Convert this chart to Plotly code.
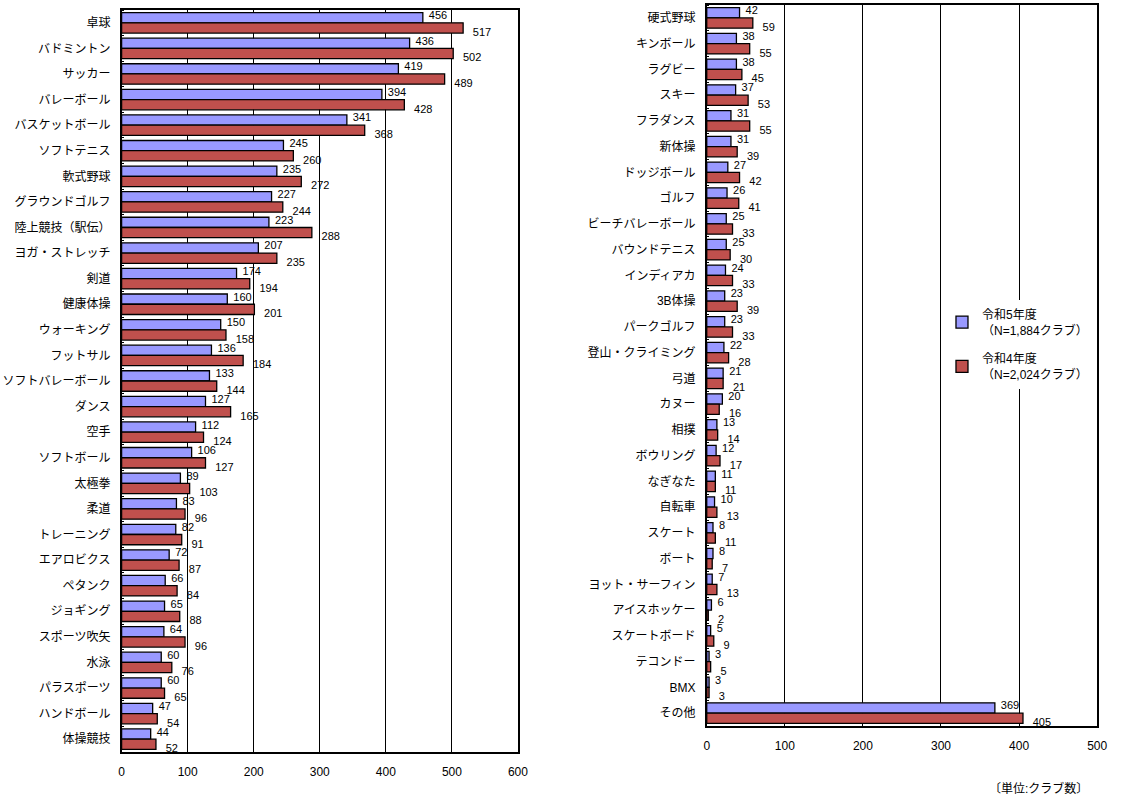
import plotly.graph_objects as go

# Left panel: larger sports
left_sports = ["卓球", "バドミントン", "サッカー", "バレーボール", "バスケットボール",
               "ソフトテニス", "軟式野球", "グラウンドゴルフ", "陸上競技（駅伝）", "ヨガ・ストレッチ",
               "剣道", "健康体操", "ウォーキング", "フットサル", "ソフトバレーボール",
               "ダンス", "空手", "ソフトボール", "太極拳", "柔道",
               "トレーニング", "エアロビクス", "ペタンク", "ジョギング", "スポーツ吹矢",
               "水泳", "パラスポーツ", "ハンドボール", "体操競技"]
left_r5 = [456, 436, 419, 394, 341, 245, 235, 227, 223, 207,
           174, 160, 150, 136, 133, 127, 112, 106, 89, 83,
           82, 72, 66, 65, 64, 60, 60, 47, 44]
left_r4 = [517, 502, 489, 428, 368, 260, 272, 244, 288, 235,
           194, 201, 158, 184, 144, 165, 124, 127, 103, 96,
           91, 87, 84, 88, 96, 76, 65, 54, 52]

# Right panel: smaller sports and others
right_sports = ["硬式野球", "キンボール", "ラグビー", "スキー", "フラダンス",
                "新体操", "ドッジボール", "ゴルフ", "ビーチバレーボール", "バウンドテニス",
                "インディアカ", "3B体操", "パークゴルフ", "登山・クライミング", "弓道",
                "カヌー", "相撲", "ボウリング", "なぎなた", "自転車",
                "スケート", "ボート", "ヨット・サーフィン", "アイスホッケー", "スケートボード",
                "テコンドー", "BMX", "その他"]
right_r5 = [42, 38, 38, 37, 31, 31, 27, 26, 25, 25,
            24, 23, 23, 22, 21, 20, 13, 12, 11, 10,
            8, 8, 7, 6, 5, 3, 3, 369]
right_r4 = [59, 55, 45, 53, 55, 39, 42, 41, 33, 30,
            33, 39, 33, 28, 21, 16, 14, 17, 11, 13,
            11, 7, 13, 2, 9, 5, 3, 405]

series_names = ["令和5年度<br>（N=1,884クラブ）", "令和4年度<br>（N=2,024クラブ）"]
colors = ["#9999FF", "#C0504D"]
unit_text = "〔単位:クラブ数〕"

W, H = 1121, 801
FONT = "Liberation Sans, Noto Sans CJK JP, sans-serif"
BARGAP = 0.2
HALF = (1 - BARGAP) / 4          # distance of each bar centre from the row centre
LABEL_SHIFT = [-0.05, 0.2]       # extra vertical spread of the value labels (row units)
LABEL_PAD = [8, 14]              # invisible marker size, pushes the labels off the bar end

fig = go.Figure()


def add_panel(cats, v5, v4, xa, ya, show_legend):
    rows = list(range(len(cats)))
    for i, vals in enumerate([v5, v4]):
        fig.add_trace(go.Bar(
            y=rows, x=vals, orientation="h",
            name=series_names[i], legendgroup=f"g{i}", showlegend=show_legend,
            marker=dict(color=colors[i], line=dict(color="#000000", width=1.3)),
            xaxis=xa, yaxis=ya, hoverinfo="x",
        ))
    # value labels just past the end of each bar
    for i, vals in enumerate([v5, v4]):
        sign = -1 if i == 0 else 1
        fig.add_trace(go.Scatter(
            y=[r + sign * HALF + LABEL_SHIFT[i] for r in rows], x=vals,
            mode="markers+text", text=[str(v) for v in vals],
            textposition="middle right",
            marker=dict(size=LABEL_PAD[i], color="rgba(0,0,0,0)"),
            textfont=dict(size=11, color="#000000", family=FONT),
            showlegend=False, cliponaxis=False, xaxis=xa, yaxis=ya, hoverinfo="skip",
        ))


add_panel(left_sports, left_r5, left_r4, "x", "y", False)
add_panel(right_sports, right_r5, right_r4, "x2", "y2", True)

axis_common = dict(
    showline=True, linecolor="#000000", linewidth=1.5, mirror=True,
    tickfont=dict(size=12, color="#000000", family=FONT),
)


def cat_axis(cats, domain, anchor):
    n = len(cats)
    return dict(
        domain=domain, range=[n - 0.5, -0.5], tickmode="array",
        tickvals=list(range(n)), ticktext=cats, ticks="",
        minor=dict(tickmode="linear", tick0=0.5, dtick=1, ticks="inside",
                   ticklen=3, tickcolor="#000000", showgrid=False),
        showgrid=False, zeroline=False, anchor=anchor, ticklabelstandoff=7,
        **axis_common,
    )


def val_axis(domain, rng, anchor):
    return dict(
        domain=domain, range=rng, dtick=100, showgrid=True,
        gridcolor="#000000", gridwidth=1, ticks="", zeroline=False,
        anchor=anchor, ticklabelstandoff=8, **axis_common,
    )


fig.update_layout(
    width=W, height=H,
    margin=dict(l=0, r=0, t=0, b=0),
    paper_bgcolor="#FFFFFF", plot_bgcolor="#FFFFFF",
    font=dict(family=FONT, color="#000000"),
    barmode="group", bargap=BARGAP, bargroupgap=0.0,
    xaxis=val_axis([120 / W, 521 / W], [0, 600], "y"),
    yaxis=cat_axis(left_sports, [1 - 752 / H, 1 - 10 / H], "x"),
    xaxis2=val_axis([712 / W, 1107 / W], [0, 500], "y2"),
    yaxis2=cat_axis(right_sports, [1 - 726 / H, 1 - 5 / H], "x2"),
    legend=dict(
        x=950 / W, y=1 - 300 / H, xanchor="left", yanchor="top",
        bgcolor="#FFFFFF", borderwidth=0,
        font=dict(size=12, color="#000000", family=FONT),
        traceorder="grouped", tracegroupgap=10, itemwidth=30,
    ),
    annotations=[dict(
        text=unit_text, x=1100 / W, y=1 - 788 / H, xref="paper", yref="paper",
        xanchor="right", yanchor="middle", showarrow=False,
        font=dict(size=12, color="#000000", family=FONT),
    )],
)

fig.write_html("out.html")
